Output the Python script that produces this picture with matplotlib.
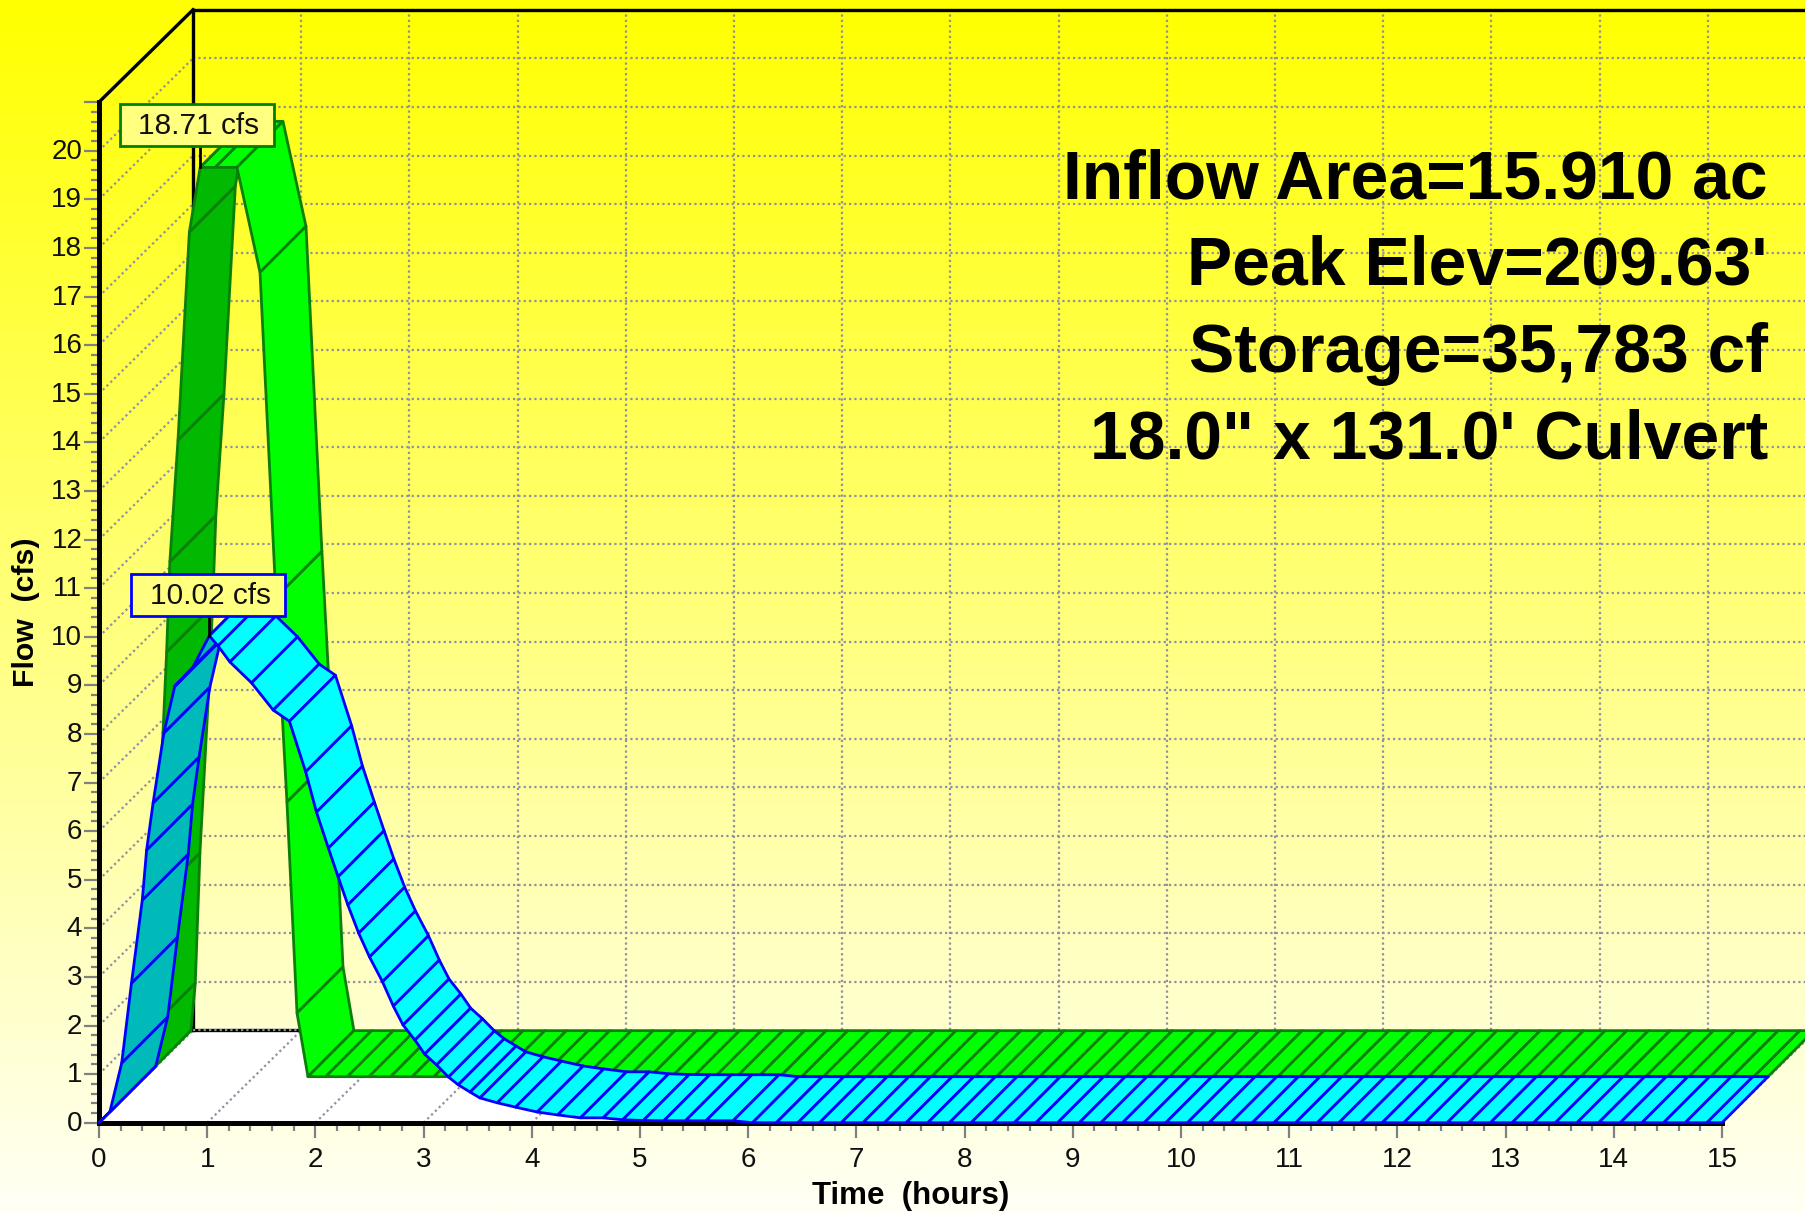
import matplotlib
matplotlib.use('Agg')
import matplotlib.pyplot as plt
import numpy as np
from matplotlib.colors import LinearSegmentedColormap
from matplotlib.patches import Polygon, Rectangle
from matplotlib.ticker import FixedLocator, NullFormatter
from matplotlib.transforms import ScaledTranslation

plt.rcParams['font.family'] = ['Liberation Sans', 'DejaVu Sans']

# inflow hydrograph (green)
inflow_time = [0.0, 0.04, 0.083, 0.166, 0.2, 0.23, 0.305, 0.41, 0.51, 0.65, 0.85,
               1.063, 1.21, 1.312, 1.405, 1.506]
inflow_flow = [0.0, 0.98, 3.66, 7.07, 8.74, 10.6, 13.1, 17.38, 18.71, 18.71, 18.71,
               16.55, 9.86, 5.65, 1.31, 0.0]
inflow_tail = [1.67, 1.87, 2.07, 2.27, 2.47, 2.67, 2.87, 3.07, 3.27, 3.47, 3.67, 3.87,
               4.07, 4.27, 4.47, 4.67, 4.87, 5.07, 5.27, 5.47, 5.67, 5.87, 6.07, 6.27,
               6.47, 6.67, 6.87, 7.07, 7.27, 7.47, 7.67, 7.87, 8.07, 8.27, 8.47, 8.67,
               8.87, 9.07, 9.27, 9.47, 9.67, 9.87, 10.07, 10.27, 10.47, 10.67, 10.87,
               11.07, 11.27, 11.47, 11.67, 11.87, 12.07, 12.27, 12.47, 12.67, 12.87,
               13.07, 13.27, 13.47, 13.67, 13.87, 14.07, 14.27, 14.47, 14.67, 14.87, 15.0]

# outflow hydrograph (blue)
outflow_time = [0.0, 0.10, 0.21, 0.30, 0.40, 0.44, 0.50, 0.60, 0.70, 0.87, 1.02, 1.10,
                1.21, 1.41, 1.61, 1.76, 1.91, 2.01, 2.12, 2.21, 2.30, 2.40, 2.50, 2.62, 2.72,
                2.81, 2.92, 3.01, 3.12, 3.23, 3.32, 3.43, 3.52, 3.68, 3.85, 4.05, 4.24,
                4.45, 4.66, 4.84, 5.03, 5.22, 5.42, 5.61, 5.86, 6.04]
outflow_flow = [0.0, 0.22, 1.23, 2.87, 4.58, 5.61, 6.58, 8.02, 8.98, 9.38, 10.02, 9.81,
                9.48, 9.05, 8.49, 8.26, 7.22, 6.39, 5.65, 5.06, 4.48, 3.90, 3.41, 2.90, 2.40,
                2.01, 1.70, 1.41, 1.19, 0.94, 0.78, 0.63, 0.51, 0.41, 0.32, 0.22, 0.16,
                0.10, 0.10, 0.06, 0.045, 0.04, 0.04, 0.04, 0.04, 0.0]
outflow_tail = [6.26, 6.46, 6.66, 6.86, 7.06, 7.26, 7.46, 7.66, 7.86, 8.06, 8.26, 8.46,
                8.66, 8.86, 9.06, 9.26, 9.46, 9.66, 9.86, 10.06, 10.26, 10.46, 10.66,
                10.86, 11.06, 11.26, 11.46, 11.66, 11.86, 12.06, 12.26, 12.46, 12.66,
                12.86, 13.06, 13.26, 13.46, 13.66, 13.86, 14.06, 14.26, 14.46, 14.66,
                14.86, 15.0]

x_ticks = list(range(16))
y_ticks = list(range(22))
y_labels = [str(v) for v in range(21)] + ['']
info_lines = ['Inflow Area=15.910 ac', 'Peak Elev=209.63\'', 'Storage=35,783 cf',
              '18.0" x 131.0\' Culvert']
info_heights = [19.02, 17.24, 15.45, 13.66]

# depth of the fake 3d box, in data units
DX = 0.425
DY = 0.947
WALL_DX = 0.869
WALL_DY = 1.9
GRID = dict(color='#9090A0', lw=1.6, ls=(0, (1, 1.4)), clip_on=False, zorder=2)


def draw_ribbon(ax, times, flows, depth, face, shade, edge):
    back = depth + 1
    for i in range(len(times) - 1):
        t0, t1 = times[i], times[i + 1]
        q0, q1 = flows[i], flows[i + 1]
        pts = [(t0 + depth * DX, q0 + depth * DY), (t1 + depth * DX, q1 + depth * DY),
               (t1 + back * DX, q1 + back * DY), (t0 + back * DX, q0 + back * DY)]
        color = shade if q1 > q0 else face
        ax.add_patch(Polygon(pts, closed=True, facecolor=color, edgecolor=edge, lw=2,
                             joinstyle='round', clip_on=False, zorder=5 + depth * -1))


def draw_label(ax, x, y, text, edge):
    ax.add_patch(Rectangle((x, y), 1.425, 0.864, facecolor='#FFFF80', edgecolor=edge, lw=2,
                           clip_on=False, zorder=8))
    ax.text(x + 0.73, y + 0.41, text, fontsize=21.5, color='#101010', ha='center', va='center',
            zorder=9)


fig = plt.figure(figsize=(18.06, 12.13), dpi=100)

# background gradient
bg = fig.add_axes([0, 0, 1, 1], zorder=0)
cmap = LinearSegmentedColormap.from_list('bg', ['#FFFF00', '#FFFFF5'])
bg.imshow(np.linspace(0, 1, 600).reshape(-1, 1), cmap=cmap, aspect='auto')
bg.axis('off')

ax = fig.add_axes([99 / 1806, (1213 - 1122.7) / 1213, 1623 / 1806, 21 * 48.6 / 1213], zorder=1)
ax.patch.set_visible(False)
ax.set_xlim(0, 15)
ax.set_ylim(0, 21)

# floor
ax.add_patch(Polygon([(0, 0), (15, 0), (15 + WALL_DX, WALL_DY), (WALL_DX, WALL_DY)],
                     closed=True, facecolor='white', edgecolor='none', clip_on=False, zorder=1))

# walls
for q in y_ticks[1:]:
    ax.plot([0, WALL_DX], [q, q + WALL_DY], **GRID)
    ax.plot([WALL_DX, 17], [q + WALL_DY, q + WALL_DY], **GRID)
for t in x_ticks:
    ax.plot([t, t + WALL_DX], [0, WALL_DY], **GRID)
    ax.plot([t + WALL_DX, t + WALL_DX], [WALL_DY, 21 + WALL_DY], **GRID)

# black frame of the back walls
frame = dict(color='black', lw=2.4, clip_on=False, zorder=3)
ax.plot([0, WALL_DX], [21, 21 + WALL_DY], **frame)
ax.plot([WALL_DX, WALL_DX], [WALL_DY, 21 + WALL_DY], **frame)
ax.plot([WALL_DX, 17], [21 + WALL_DY, 21 + WALL_DY], **frame)
ax.plot([WALL_DX, 2.0], [WALL_DY, WALL_DY], **frame)
ax.plot([WALL_DX, 2.0], [WALL_DY, WALL_DY], **GRID | {'zorder': 3.5})

# ribbons
draw_ribbon(ax, inflow_time + inflow_tail, inflow_flow + [0.0] * len(inflow_tail), 1,
            '#00FF00', '#00B900', '#0A800A')
draw_ribbon(ax, outflow_time + outflow_tail, outflow_flow + [0.0] * len(outflow_tail), 0,
            '#00FFFF', '#00B9B9', '#0000FF')

# peak labels
ax.plot([0.51 + DX, 0.51 + DX], [18.71 + DY, 20.1], color='black', lw=2, clip_on=False, zorder=4)
ax.plot([1.02, 1.02], [10.02, 10.43], color='black', lw=2, clip_on=False, zorder=7)
draw_label(ax, 0.194, 20.1, '18.71 cfs', '#008000')
draw_label(ax, 0.296, 10.43, '10.02 cfs', '#0000FF')

# axes
for side in ['top', 'right']:
    ax.spines[side].set_visible(False)
for side in ['left', 'bottom']:
    ax.spines[side].set_linewidth(3.6)
    ax.spines[side].set_zorder(4)
ax.xaxis.set_major_locator(FixedLocator(x_ticks))
ax.yaxis.set_major_locator(FixedLocator(y_ticks))
ax.xaxis.set_minor_locator(FixedLocator(np.arange(0, 15.01, 0.2)))
ax.yaxis.set_minor_locator(FixedLocator(np.arange(0, 21.01, 0.2)))
ax.xaxis.set_minor_formatter(NullFormatter())
ax.yaxis.set_minor_formatter(NullFormatter())
ax.set_xticklabels([str(v) for v in x_ticks])
ax.set_yticklabels(y_labels)
ax.tick_params(axis='both', which='major', length=10.5, width=1.6, color='#808080',
               labelsize=20, labelcolor='#101010')
ax.tick_params(axis='both', which='minor', length=6, width=1.6, color='#808080')
ax.tick_params(axis='x', which='major', pad=7)
ax.tick_params(axis='y', which='major', pad=1.5)
for label in ax.get_yticklabels():
    label.set_transform(label.get_transform() + ScaledTranslation(0, 2 / 100, fig.dpi_scale_trans))

ax.set_xlabel('Time  (hours)', fontsize=22.5, fontweight='bold', va='center')
ax.set_ylabel('Flow  (cfs)', fontsize=21.8, fontweight='bold', va='center')
ax.xaxis.set_label_coords(0.5, -0.0718)
ax.yaxis.set_label_coords(-0.0452, 0.5)

# info text
for line, h in zip(info_lines, info_heights):
    ax.text(15.425, h, line, fontsize=48.9, fontweight='bold', color='black', ha='right',
            va='baseline', clip_on=False, zorder=10)

fig.savefig('out.png', dpi=100)
